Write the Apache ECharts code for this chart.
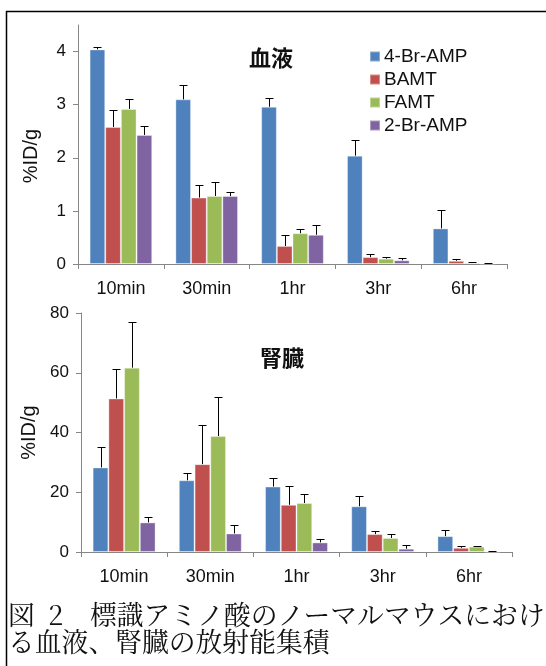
<!DOCTYPE html>
<html>
<head>
<meta charset="utf-8">
<script src="https://cdn.jsdelivr.net/npm/echarts@6/dist/echarts.min.js"></script>
<style>
html,body{margin:0;padding:0;background:#fff;}
#chart{width:546px;height:666px;}
</style>
</head>
<body>
<div id="chart"></div>
<script>
// ---- data ----
var categories = ['10min', '30min', '1hr', '3hr', '6hr'];
var seriesNames = ['4-Br-AMP', 'BAMT', 'FAMT', '2-Br-AMP'];
var colors = ['#4F81BD', '#C0504D', '#9BBB59', '#8064A2'];

// 血液 (blood) %ID/g
var blood4BrAMP = [4.04, 3.10, 2.96, 2.04, 0.67];
var bloodBAMT   = [2.58, 1.25, 0.34, 0.13, 0.06];
var bloodFAMT   = [2.92, 1.28, 0.58, 0.10, 0.025];
var blood2BrAMP = [2.43, 1.28, 0.55, 0.07, 0.01];
// upper error (SD)
var bloodErr4BrAMP = [0.04, 0.27, 0.17, 0.30, 0.35];
var bloodErrBAMT   = [0.32, 0.23, 0.20, 0.05, 0.04];
var bloodErrFAMT   = [0.19, 0.26, 0.08, 0.04, 0.005];
var bloodErr2BrAMP = [0.17, 0.08, 0.19, 0.04, 0.005];

// 腎臓 (kidney) %ID/g
var kidney4BrAMP = [28.3, 24.0, 21.9, 15.3, 5.3];
var kidneyBAMT   = [51.4, 29.4, 15.8, 6.0, 1.4];
var kidneyFAMT   = [61.7, 38.8, 16.4, 4.7, 1.8];
var kidney2BrAMP = [9.9, 6.2, 3.2, 1.1, 0.1];
var kidneyErr4BrAMP = [6.7, 2.6, 2.8, 3.5, 2.1];
var kidneyErrBAMT   = [9.9, 13.1, 6.4, 0.9, 0.5];
var kidneyErrFAMT   = [15.2, 13.1, 2.9, 1.2, 0.3];
var kidneyErr2BrAMP = [1.8, 2.7, 1.0, 1.4, 0.1];

var bloodTicks = [0, 1, 2, 3, 4];
var kidneyTicks = [0, 20, 40, 60, 80];

var bloodTitle = '血液';
var kidneyTitle = '腎臓';
var yName = '%ID/g';
var captionText = '図\u20022　標識アミノ酸のノーマルマウスにおけ\nる血液、腎臓の放射能集積';

// ---- build ----
var GAP = 0.27;
var bloodVals = [blood4BrAMP, bloodBAMT, bloodFAMT, blood2BrAMP];
var bloodErrs = [bloodErr4BrAMP, bloodErrBAMT, bloodErrFAMT, bloodErr2BrAMP];
var kidneyVals = [kidney4BrAMP, kidneyBAMT, kidneyFAMT, kidney2BrAMP];
var kidneyErrs = [kidneyErr4BrAMP, kidneyErrBAMT, kidneyErrFAMT, kidneyErr2BrAMP];

var FONT = '"Liberation Sans", Arial, sans-serif';
var axisColor = '#868686';
var textColor = '#111';

function errData(vals, errs) {
  var out = [];
  for (var s = 0; s < vals.length; s++) {
    for (var c = 0; c < categories.length; c++) {
      out.push([c, vals[s][c], vals[s][c] + errs[s][c], s]);
    }
  }
  return out;
}

function renderErr(params, api) {
  var cat = api.value(0), v = api.value(1), hi = api.value(2), s = api.value(3);
  var band = api.size([1, 0])[0];
  var bw = band * (1 - GAP) / 4;
  var c = api.coord([cat, v]);
  var t = api.coord([cat, hi]);
  var x = Math.round(c[0] + (s - 1.5) * bw) + 0.5;
  var ty = Math.round(t[1]) + 0.5;
  return {
    type: 'group',
    children: [
      {type: 'line', shape: {x1: x, y1: c[1], x2: x, y2: ty}, style: {stroke: '#000', lineWidth: 1}},
      {type: 'line', shape: {x1: x - 4, y1: ty, x2: x + 4, y2: ty}, style: {stroke: '#000', lineWidth: 1}}
    ]
  };
}

function xAxisCfg(gi) {
  return {
    type: 'category', gridIndex: gi, data: categories, boundaryGap: true,
    axisLine: {lineStyle: {color: axisColor, width: 1}},
    axisTick: {show: true, length: 5, lineStyle: {color: axisColor}},
    axisLabel: {color: textColor, fontSize: 18, fontFamily: FONT, margin: 16, interval: 0},
    splitLine: {show: false}
  };
}

function yAxisCfg(gi, max, interval, ticks, gap, namePad) {
  return {
    type: 'value', gridIndex: gi, min: 0, max: max, interval: interval,
    name: yName, nameLocation: 'middle', nameRotate: 90, nameGap: gap,
    nameTextStyle: {color: textColor, fontSize: 20, fontFamily: FONT, padding: namePad},
    axisLine: {show: true, lineStyle: {color: axisColor, width: 1}},
    axisTick: {show: true, length: 5, customValues: ticks, lineStyle: {color: axisColor}},
    axisLabel: {color: textColor, fontSize: 17, fontFamily: FONT, margin: 12, customValues: ticks},
    splitLine: {show: false}
  };
}

var series = [];
bloodVals.forEach(function (arr, i) {
  series.push({
    name: seriesNames[i], type: 'bar', xAxisIndex: 0, yAxisIndex: 0, data: arr,
    barCategoryGap: (GAP * 100) + '%', barGap: '0%',
    itemStyle: {color: colors[i], borderColor: 'rgba(255,255,255,0.35)', borderWidth: 1},
    emphasis: {disabled: true}
  });
});
kidneyVals.forEach(function (arr, i) {
  series.push({
    name: seriesNames[i], type: 'bar', xAxisIndex: 1, yAxisIndex: 1, data: arr,
    barCategoryGap: (GAP * 100) + '%', barGap: '0%',
    itemStyle: {color: colors[i], borderColor: 'rgba(255,255,255,0.35)', borderWidth: 1},
    emphasis: {disabled: true}
  });
});
series.push({
  type: 'custom', xAxisIndex: 0, yAxisIndex: 0, renderItem: renderErr,
  data: errData(bloodVals, bloodErrs), encode: {x: 0, y: [1, 2]}, z: 5, silent: true
});
series.push({
  type: 'custom', xAxisIndex: 1, yAxisIndex: 1, renderItem: renderErr,
  data: errData(kidneyVals, kidneyErrs), encode: {x: 0, y: [1, 2]}, z: 5, silent: true
});

var option = {
  backgroundColor: '#fff',
  animation: false,
  title: [
    {text: bloodTitle, left: 266, top: 53, textAlign: 'center', textVerticalAlign: 'middle',
     textStyle: {fontSize: 22, fontWeight: 'bold', color: '#111', fontFamily: '"Noto Sans CJK JP", sans-serif'}},
    {text: kidneyTitle, left: 277, top: 353, textAlign: 'center', textVerticalAlign: 'middle',
     textStyle: {fontSize: 22, fontWeight: 'bold', color: '#111', fontFamily: '"Noto Sans CJK JP", sans-serif'}}
  ],
  legend: {
    data: seriesNames, orient: 'vertical', left: 364, top: 42,
    icon: 'rect', itemWidth: 10, itemHeight: 10, itemGap: 4,
    textStyle: {fontSize: 19, fontFamily: FONT, color: '#111', lineHeight: 19, padding: [0, 0, 0, -1]},
    selectedMode: false
  },
  grid: [
    {left: 78, right: 39, top: 25, height: 239},
    {left: 81, right: 34, top: 313, height: 239}
  ],
  xAxis: [xAxisCfg(0), xAxisCfg(1)],
  yAxis: [
    yAxisCfg(0, 4.5, 1, bloodTicks, 37, [0, 23, 0, 0]),
    yAxisCfg(1, 80, 20, kidneyTicks, 40, [0, 0, 0, 0])
  ],
  series: series,
  graphic: [
    {type: 'line', shape: {x1: 6, y1: 11.5, x2: 546, y2: 11.5}, style: {stroke: '#000', lineWidth: 1.5}},
    {type: 'line', shape: {x1: 6.5, y1: 11, x2: 6.5, y2: 666}, style: {stroke: '#000', lineWidth: 1.5}},
    {type: 'text', left: 8, top: 601,
     style: {text: captionText, fontSize: 26.8, lineHeight: 27, fill: '#111',
             fontFamily: '"Noto Serif CJK JP", "Noto Sans CJK JP", serif'}}
  ]
};

var chart = echarts.init(document.getElementById('chart'), null, {renderer: 'canvas'});
chart.setOption(option);
</script>
</body>
</html>
